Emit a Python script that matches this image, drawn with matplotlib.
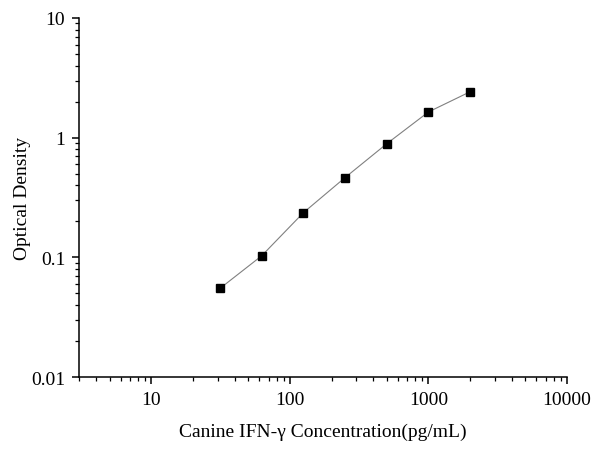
import matplotlib
matplotlib.use("Agg")
import matplotlib.pyplot as plt
from matplotlib.ticker import LogLocator, NullFormatter, FixedLocator, FixedFormatter

# standard curve data
conc = [31.25, 62.5, 125, 250, 500, 1000, 2000]
od = [0.055, 0.103, 0.236, 0.464, 0.89, 1.64, 2.42]

x_ticks = [10, 100, 1000, 10000]
x_labels = ["10", "100", "1000", "10000"]
y_ticks = [0.01, 0.1, 1, 10]
y_labels = ["0.01", "0.1", "1", "10"]

plt.rcParams["font.family"] = ["Liberation Serif", "DejaVu Serif"]

fig = plt.figure(figsize=(6, 4.52), dpi=100)
ax = fig.add_axes([0.1317, 0.1637, 0.8133, 0.7943])

ax.plot(conc, od, color="#808080", linewidth=0.8, zorder=2)
ax.plot(conc, od, linestyle="none", marker="s", markersize=5.5,
        color="black", zorder=3)

ax.set_xscale("log")
ax.set_yscale("log")
ax.set_xlim(3, 10000)
ax.set_ylim(0.01, 10)

ax.xaxis.set_major_locator(FixedLocator(x_ticks))
ax.xaxis.set_major_formatter(FixedFormatter(x_labels))
ax.yaxis.set_major_locator(FixedLocator(y_ticks))
ax.yaxis.set_major_formatter(FixedFormatter(y_labels))
ax.xaxis.set_minor_locator(LogLocator(base=10, subs=range(2, 10), numticks=20))
ax.yaxis.set_minor_locator(LogLocator(base=10, subs=range(2, 10), numticks=20))
ax.xaxis.set_minor_formatter(NullFormatter())
ax.yaxis.set_minor_formatter(NullFormatter())

for side in ["top", "right"]:
    ax.spines[side].set_visible(False)
for side in ["left", "bottom"]:
    ax.spines[side].set_linewidth(1.1)

ax.tick_params(which="major", direction="out", length=5, width=1.1,
               labelsize=14, pad=5)
ax.tick_params(which="minor", direction="out", length=3, width=0.9)

ax.set_xlabel("Canine IFN-\u03b3 Concentration(pg/mL)", fontsize=14, labelpad=11)
ax.set_ylabel("Optical Density", fontsize=14, labelpad=0)

fig.savefig("out.png", dpi=100)
